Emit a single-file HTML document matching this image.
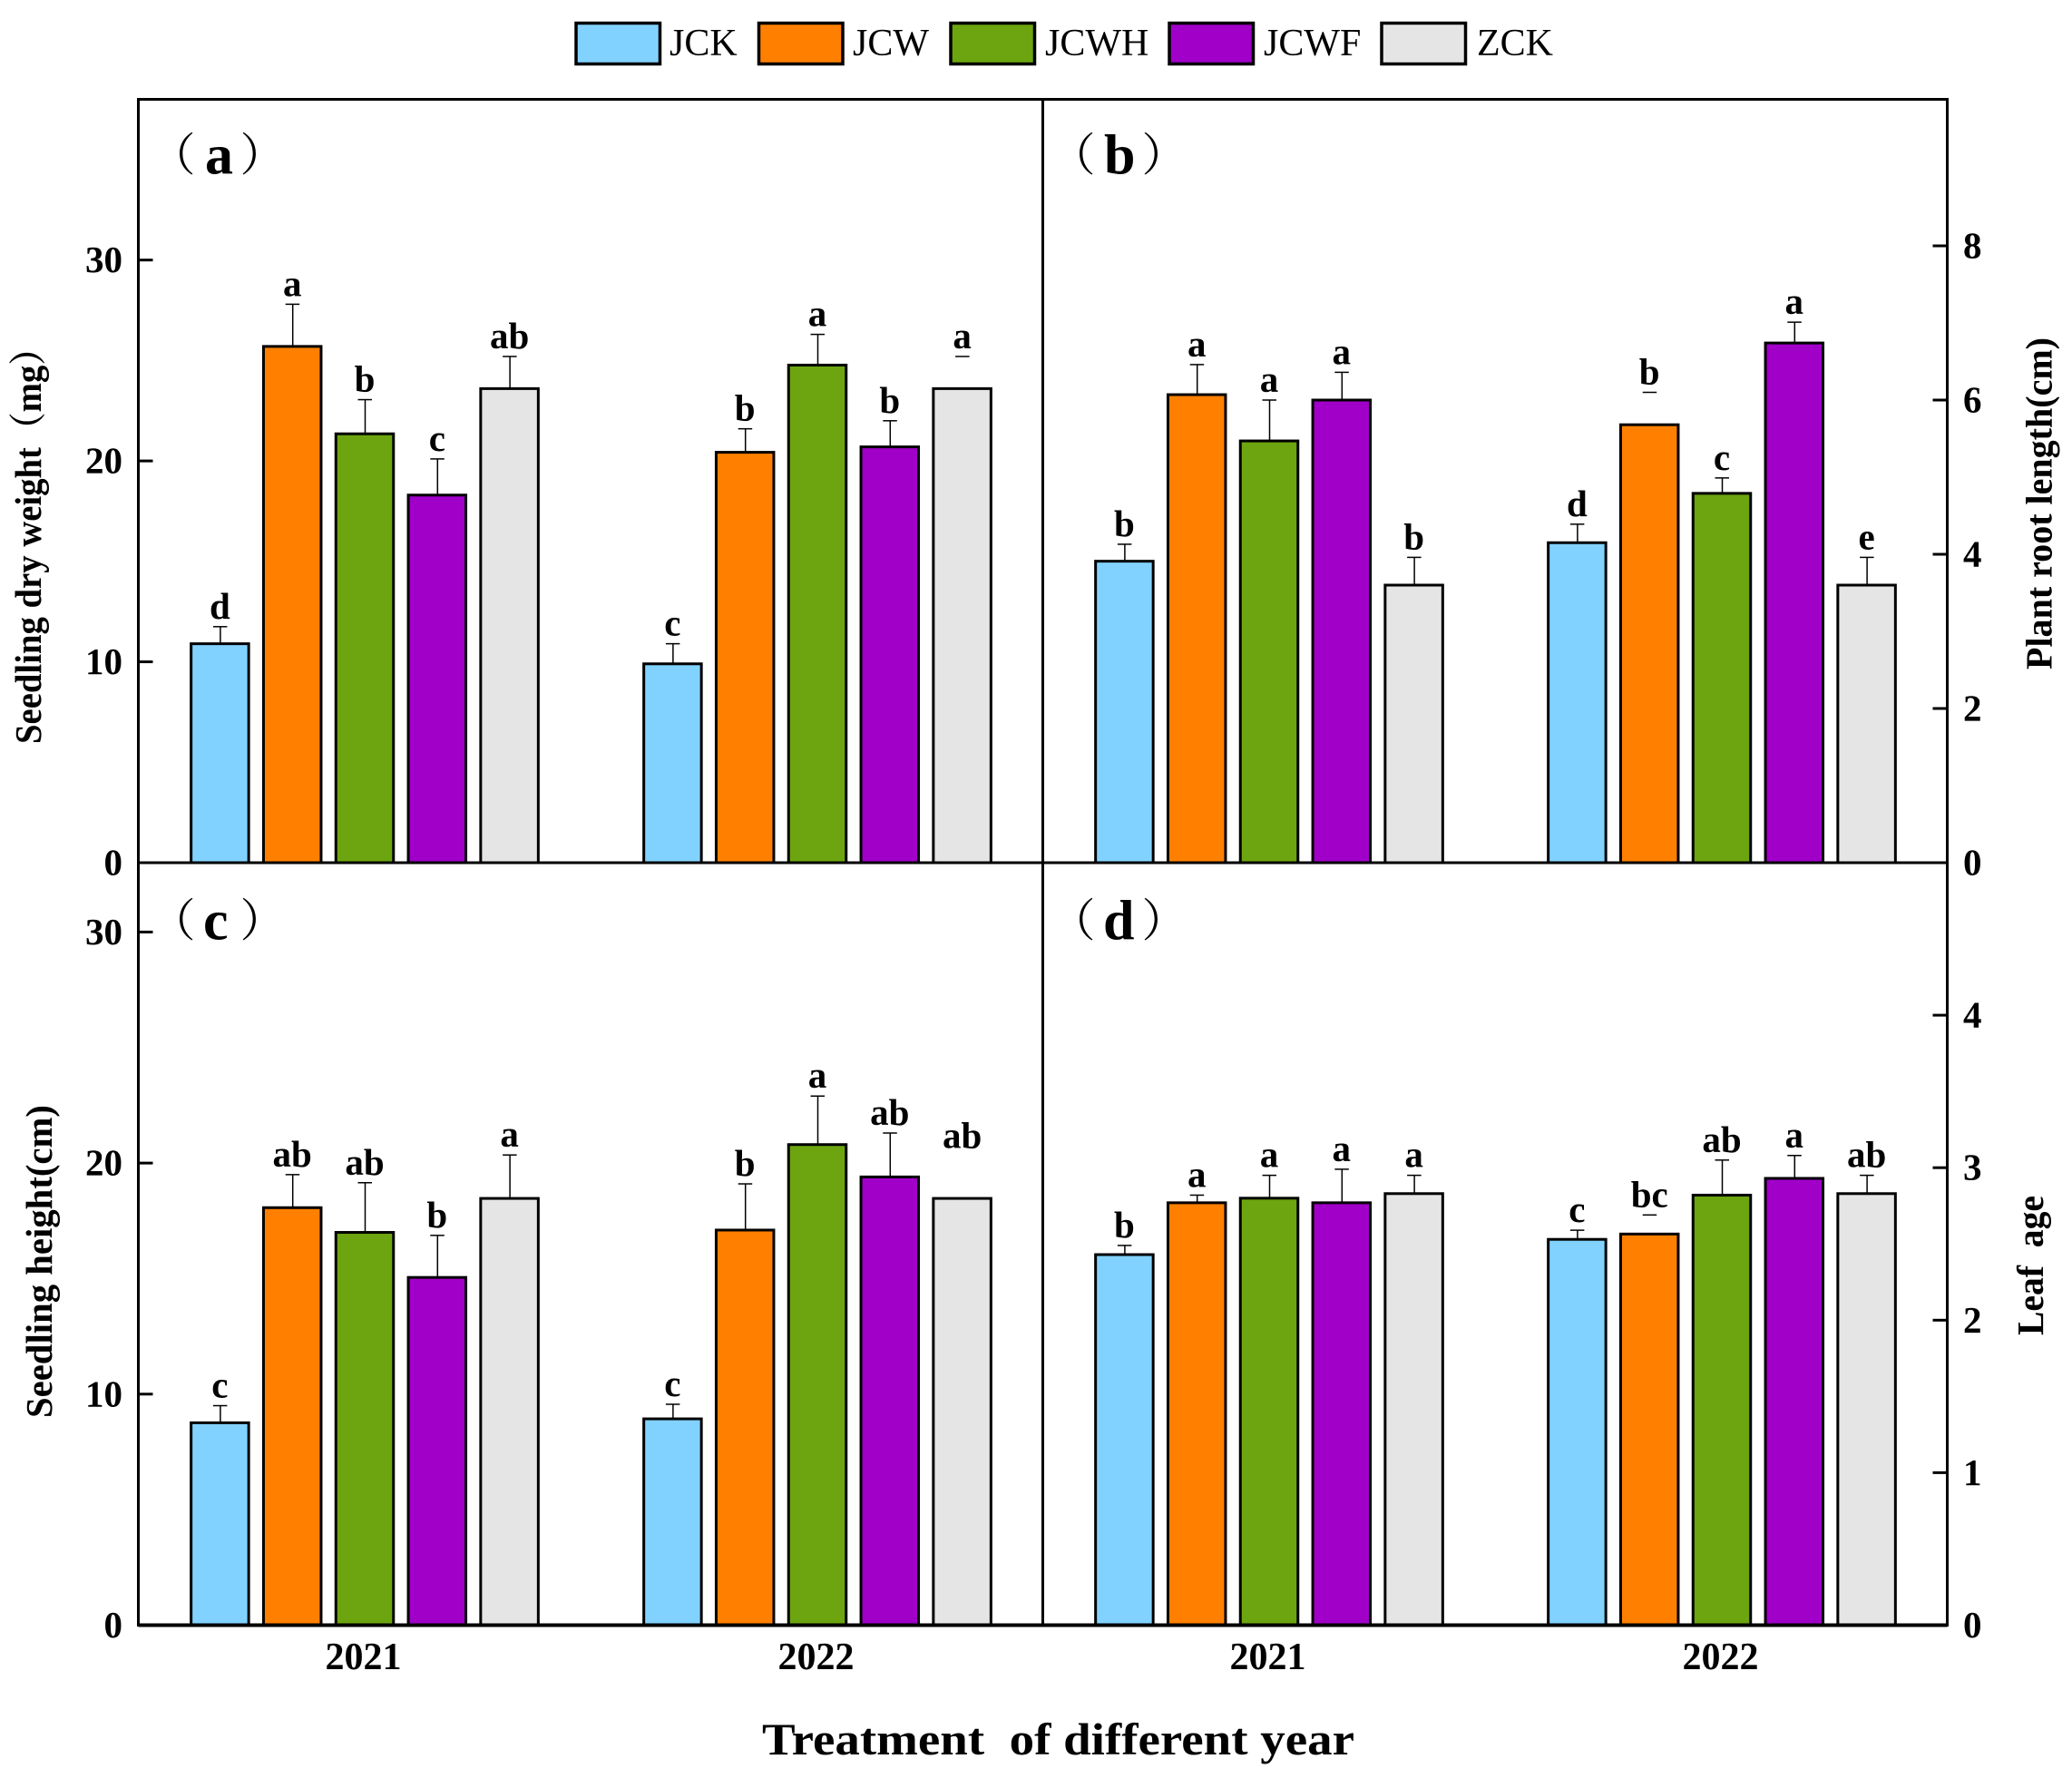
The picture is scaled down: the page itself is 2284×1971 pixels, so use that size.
<!DOCTYPE html>
<html lang="en">
<head>
<meta charset="utf-8">
<title>Seedling traits by treatment and year</title>
<style>
html,body{margin:0;padding:0;background:#fff;}
svg{display:block;}
text{font-family:"Liberation Serif","Noto Serif CJK SC",serif;fill:#000;white-space:pre;}
.b{font-weight:bold;}
.p{font-weight:normal;font-size:50px;}
</style>
</head>
<body>
<svg id="chart" xmlns="http://www.w3.org/2000/svg" width="2284" height="1971" viewBox="0 0 2284 1971">
  <rect x="0" y="0" width="2284" height="1971" fill="#ffffff"/>
  <g>
    <g>
      <rect x="635" y="25.5" width="92.5" height="45" fill="#82d2ff" stroke="#000" stroke-width="3.5"/>
      <text x="738" y="61" font-size="42">JCK</text>
    </g>
    <g>
      <rect x="836.5" y="25.5" width="92.5" height="45" fill="#ff8000" stroke="#000" stroke-width="3.5"/>
      <text x="940" y="61" font-size="42">JCW</text>
    </g>
    <g>
      <rect x="1048" y="25.5" width="92.5" height="45" fill="#6ca50f" stroke="#000" stroke-width="3.5"/>
      <text x="1152" y="61" font-size="42">JCWH</text>
    </g>
    <g>
      <rect x="1289" y="25.5" width="92.5" height="45" fill="#a000c8" stroke="#000" stroke-width="3.5"/>
      <text x="1393" y="61" font-size="42">JCWF</text>
    </g>
    <g>
      <rect x="1523" y="25.5" width="92.5" height="45" fill="#e5e5e5" stroke="#000" stroke-width="3.5"/>
      <text x="1628" y="61" font-size="42">ZCK</text>
    </g>
  </g>
  <g id="bars-layer"></g>
  <g fill="none" stroke="#000" stroke-width="3">
    <rect x="152.5" y="109.5" width="1994" height="1682"/>
    <line x1="1149.5" y1="109.5" x2="1149.5" y2="1791.5"/>
    <line x1="152.5" y1="951" x2="2146.5" y2="951"/>
    <line x1="152.5" y1="1791.5" x2="2146.5" y2="1791.5" stroke-width="4"/>
  </g>
  <g id="axes-layer"></g>
  <text><tspan class="p" x="165.5" y="188">（</tspan><tspan class="b" font-size="62" x="226" y="191.5">a</tspan><tspan class="p" x="264.5" y="188">）</tspan></text>
  <text><tspan class="p" x="1157.5" y="188">（</tspan><tspan class="b" font-size="62" x="1217" y="191.5">b</tspan><tspan class="p" x="1258.5" y="188">）</tspan></text>
  <text><tspan class="p" x="165.5" y="1032">（</tspan><tspan class="b" font-size="62" x="224" y="1035.5">c</tspan><tspan class="p" x="264.5" y="1032">）</tspan></text>
  <text><tspan class="p" x="1157.5" y="1032">（</tspan><tspan class="b" font-size="62" x="1216" y="1035.5">d</tspan><tspan class="p" x="1258.5" y="1032">）</tspan></text>
  <text class="b" transform="translate(45,820) rotate(-90)" font-size="41" textLength="456" lengthAdjust="spacingAndGlyphs">Seedling dry weight（mg）</text>
  <text class="b" transform="translate(57,1563) rotate(-90)" font-size="41" textLength="345" lengthAdjust="spacingAndGlyphs">Seedling height(cm)</text>
  <text class="b" transform="translate(2261.5,738) rotate(-90)" font-size="41" textLength="366" lengthAdjust="spacingAndGlyphs">Plant root length(cm)</text>
  <text class="b" transform="translate(2252,1472) rotate(-90)" font-size="41" textLength="154" lengthAdjust="spacingAndGlyphs">Leaf  age</text>
  <text class="b" x="840" y="1934" font-size="50" textLength="653" lengthAdjust="spacingAndGlyphs">Treatment  of different year</text>
</svg>
<script>
var years = ["2021", "2022"];
var treatments = ["JCK", "JCW", "JCWH", "JCWF", "ZCK"];
var treatmentColors = ["#82d2ff", "#ff8000", "#6ca50f", "#a000c8", "#e5e5e5"];

var aValues = [[10.9, 25.7, 21.35, 18.3, 23.6], [9.9, 20.43, 24.77, 20.7, 23.6]];
var aErrTops = [[11.75, 27.8, 23.05, 20.1, 25.2], [10.9, 21.6, 26.3, 22.0, 25.2]];
var aLetters = [["d", "a", "b", "c", "ab"], ["c", "b", "a", "b", "a"]];
var aTicks = [0, 10, 20, 30];

var bValues = [[3.91, 6.07, 5.47, 6.0, 3.6], [4.15, 5.68, 4.79, 6.74, 3.6]];
var bErrTops = [[4.13, 6.46, 6.0, 6.36, 3.96], [4.39, 6.1, 4.99, 7.01, 3.96]];
var bLetters = [["b", "a", "a", "a", "b"], ["d", "b", "c", "a", "e"]];
var bTicks = [0, 2, 4, 6, 8];

var cValues = [[8.76, 18.07, 17.0, 15.05, 18.47], [8.93, 17.1, 20.8, 19.4, 18.47]];
var cErrTops = [[9.5, 19.5, 19.15, 16.87, 20.35], [9.56, 19.1, 22.9, 21.3, 20.3]];
var cLetters = [["c", "ab", "ab", "b", "a"], ["c", "b", "a", "ab", "ab"]];
var cTicks = [0, 10, 20, 30];

var dValues = [[2.43, 2.77, 2.8, 2.77, 2.83], [2.53, 2.565, 2.82, 2.93, 2.83]];
var dErrTops = [[2.49, 2.82, 2.95, 2.99, 2.95], [2.59, 2.69, 3.05, 3.08, 2.95]];
var dLetters = [["b", "a", "a", "a", "a"], ["c", "bc", "ab", "a", "ab"]];
var dTicks = [0, 1, 2, 3, 4];

var stemlessErrors = ["a-1-4", "b-1-1", "c-1-4", "d-1-1"];
var invisibleCaps = ["c-1-4"];

var panels = [
  {id: "a", side: "left",  left: 152.5,  top: 109.5, bottom: 951,    max: 38,  values: aValues, errs: aErrTops, letters: aLetters, ticks: aTicks, showYears: false},
  {id: "b", side: "right", left: 1149.5, top: 109.5, bottom: 951,    max: 9.9, values: bValues, errs: bErrTops, letters: bLetters, ticks: bTicks, showYears: false},
  {id: "c", side: "left",  left: 152.5,  top: 951,   bottom: 1791.5, max: 33,  values: cValues, errs: cErrTops, letters: cLetters, ticks: cTicks, showYears: true},
  {id: "d", side: "right", left: 1149.5, top: 951,   bottom: 1791.5, max: 5,   values: dValues, errs: dErrTops, letters: dLetters, ticks: dTicks, showYears: true}
];

var SVG_NS = "http://www.w3.org/2000/svg";
var barsLayer = document.getElementById("bars-layer");
var axesLayer = document.getElementById("axes-layer");

function yScale(p, v) {
  return p.bottom - (v / p.max) * (p.bottom - p.top);
}
function groupCenter(p, g) {
  return p.left + 249.5 + 499 * g;
}
function xScale(p, g, s) {
  return groupCenter(p, g) + (s - (treatments.length - 1) / 2) * 79.8;
}
function make(tag, attrs, parent) {
  var el = document.createElementNS(SVG_NS, tag);
  for (var k in attrs) { el.setAttribute(k, attrs[k]); }
  parent.appendChild(el);
  return el;
}

panels.forEach(function (p) {
  p.values.forEach(function (row, g) {
    row.forEach(function (v, s) {
      var key = p.id + "-" + g + "-" + s;
      var suffix = p.id + "-" + years[g] + "-" + treatments[s].toLowerCase();
      var cx = xScale(p, g, s);
      var top = yScale(p, v);
      var errY = yScale(p, p.errs[g][s]);

      var bar = make("rect", {x: cx - 31.75, y: top, width: 63.5, height: p.bottom - top, fill: treatmentColors[s], stroke: "#000", "stroke-width": 3}, barsLayer);
      
      

      if (stemlessErrors.indexOf(key) < 0) {
        var stem = make("line", {x1: cx + 0.5, x2: cx + 0.5, y1: errY, y2: top, stroke: "#000", "stroke-width": 1.5}, barsLayer);
        
        
      }
      if (invisibleCaps.indexOf(key) < 0) {
        var cap = make("line", {x1: cx - 7.5, x2: cx + 8, y1: errY, y2: errY, stroke: "#000", "stroke-width": 1.5}, barsLayer);
        
        
      }

      var letter = make("text", {x: cx, y: errY - 9, "font-size": 41, "text-anchor": "middle", "class": "b"}, barsLayer);
      letter.textContent = p.letters[g][s];
      
      
    });
  });

  p.ticks.forEach(function (t) {
    var yt = yScale(p, t);
    var edge = p.side === "left" ? 152.5 : 2146.5;
    var dir = p.side === "left" ? 1 : -1;
    var tick = make("line", {x1: edge, x2: edge + dir * 16, y1: yt, y2: yt, stroke: "#000", "stroke-width": 3}, axesLayer);
    
    

    var label = make("text", {
      x: p.side === "left" ? 135 : 2164,
      y: yt + 13.5,
      "font-size": 41,
      "class": "b",
      "text-anchor": p.side === "left" ? "end" : "start"
    }, axesLayer);
    label.textContent = String(t);
    
    
  });

  if (p.showYears) {
    years.forEach(function (yr, g) {
      var yl = make("text", {x: groupCenter(p, g) - 1.5, y: 1840, "font-size": 42, "class": "b", "text-anchor": "middle"}, axesLayer);
      yl.textContent = yr;
      
      
    });
  }
});
</script>
</body>
</html>
